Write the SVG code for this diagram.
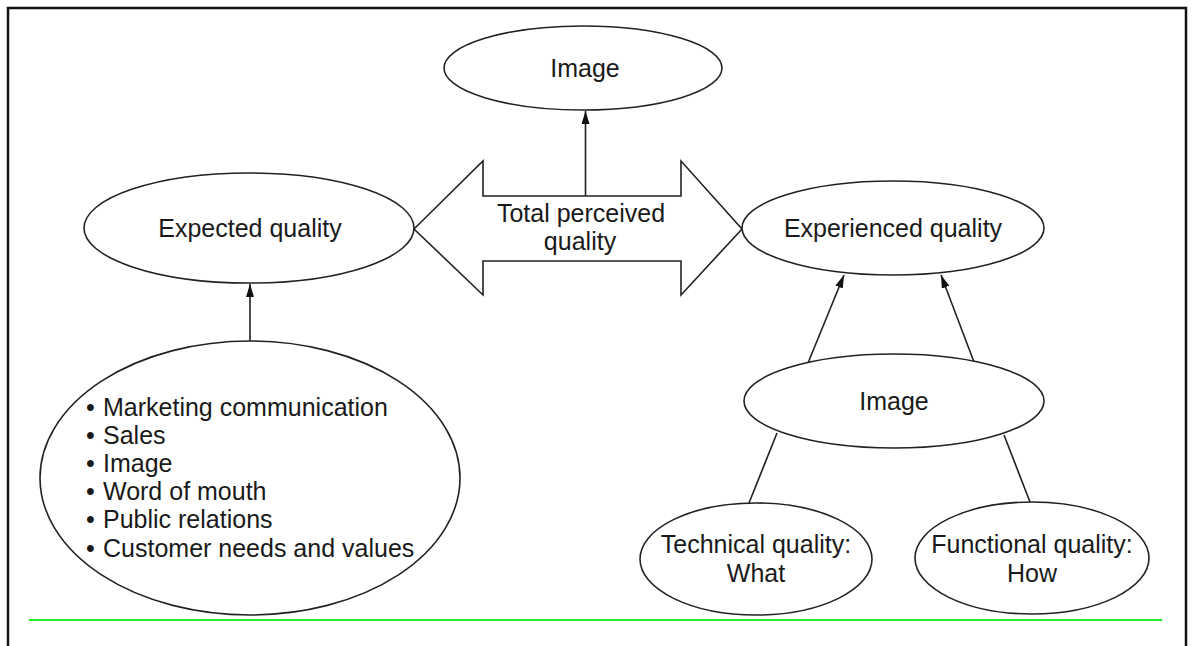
<svg xmlns="http://www.w3.org/2000/svg" width="1192" height="646" viewBox="0 0 1192 646">
<defs>
<marker id="ah" markerUnits="userSpaceOnUse" markerWidth="14" markerHeight="10" refX="13" refY="4" orient="auto">
<path d="M0,0 L13,4 L0,8 z" fill="#111"/>
</marker>
<style>
.n{fill:#fff;stroke:#222;stroke-width:1.6}
.t{font-family:"Liberation Sans",Arial,sans-serif;font-size:25px;fill:#1a1a1a}
.c{text-anchor:middle}
.e{stroke:#222;stroke-width:1.6;fill:none}
</style>
</defs>
<rect width="1192" height="646" fill="#fff"/>
<path d="M8,646 L8,8 L1186,8 L1186,646" fill="none" stroke="#111" stroke-width="2.5"/>
<line x1="29" y1="620" x2="1162" y2="620" stroke="#22ee22" stroke-width="2"/>

<g id="connectors">
<line class="e" x1="585.5" y1="196" x2="585.5" y2="111" marker-end="url(#ah)"/>
<line class="e" x1="250" y1="341" x2="250" y2="284" marker-end="url(#ah)"/>
<line class="e" x1="808" y1="363" x2="844" y2="275" marker-end="url(#ah)"/>
<line class="e" x1="974" y1="362" x2="941" y2="275" marker-end="url(#ah)"/>
<line class="e" x1="777" y1="433" x2="749" y2="503"/>
<line class="e" x1="1004" y1="435" x2="1030" y2="502"/>
</g>

<g id="total-perceived-quality">
<path class="n" d="M414,229 L483,161 L483,196 L681,196 L681,161 L742,229 L681,295 L681,261 L483,261 L483,295 Z"/>
<text class="t c" x="581" y="222">Total perceived</text>
<text class="t c" x="580" y="250">quality</text>
</g>

<g id="image-top">
<ellipse class="n" cx="583" cy="68" rx="139" ry="42"/>
<text class="t c" x="585" y="77">Image</text>
</g>

<g id="expected-quality">
<ellipse class="n" cx="249" cy="228" rx="165" ry="55"/>
<text class="t c" x="250" y="237">Expected quality</text>
</g>

<g id="sources">
<ellipse class="n" cx="250" cy="478" rx="210" ry="137"/>
<g class="t">
<text x="86" y="416">•</text><text x="103" y="416">Marketing communication</text>
<text x="86" y="444">•</text><text x="103" y="444">Sales</text>
<text x="86" y="472">•</text><text x="103" y="472">Image</text>
<text x="86" y="500">•</text><text x="103" y="500">Word of mouth</text>
<text x="86" y="528">•</text><text x="103" y="528">Public relations</text>
<text x="86" y="557">•</text><text x="103" y="557">Customer needs and values</text>
</g>
</g>

<g id="experienced-quality">
<ellipse class="n" cx="893" cy="228" rx="151" ry="47"/>
<text class="t c" x="893" y="237">Experienced quality</text>
</g>

<g id="image-mid">
<ellipse class="n" cx="894" cy="401" rx="150" ry="47"/>
<text class="t c" x="894" y="410">Image</text>
</g>

<g id="technical-quality">
<ellipse class="n" cx="756" cy="559" rx="116" ry="56"/>
<text class="t c" x="756" y="553">Technical quality:</text>
<text class="t c" x="756" y="582">What</text>
</g>

<g id="functional-quality">
<ellipse class="n" cx="1032" cy="558" rx="117" ry="56"/>
<text class="t c" x="1032" y="553">Functional quality:</text>
<text class="t c" x="1032" y="582">How</text>
</g>
</svg>
